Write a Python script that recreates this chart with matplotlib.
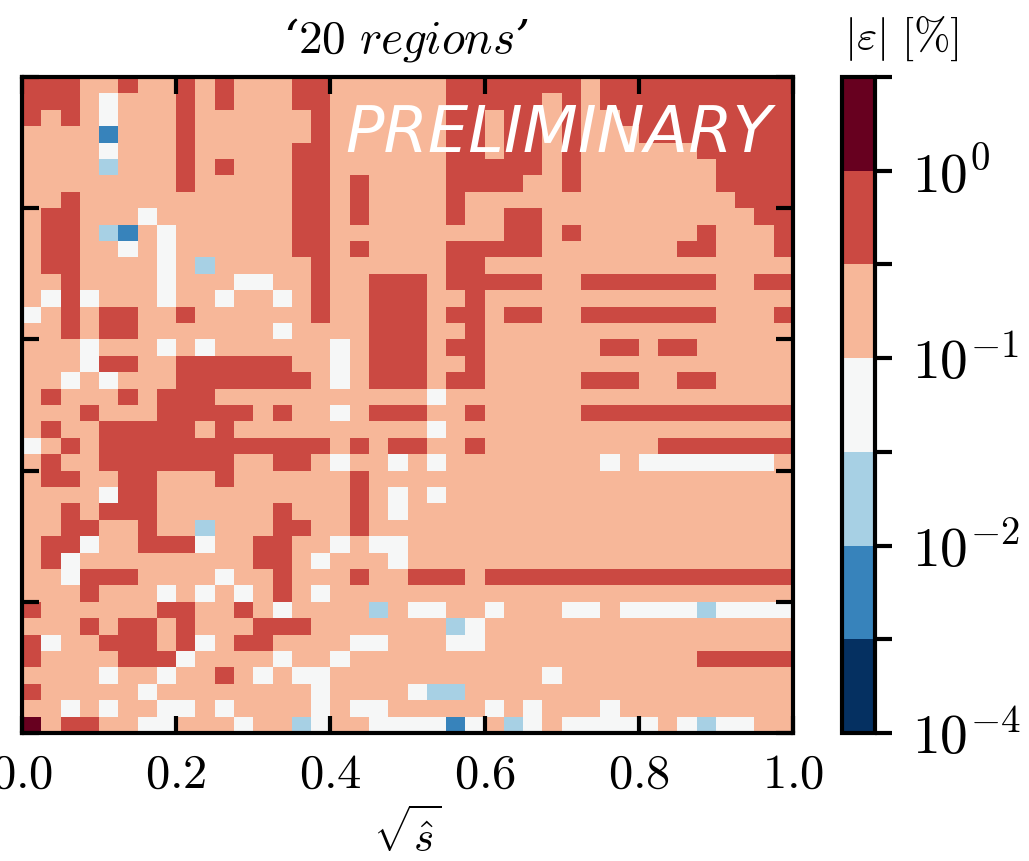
import numpy as np
import matplotlib
matplotlib.use("Agg")
import matplotlib.pyplot as plt
from matplotlib.colors import BoundaryNorm
from matplotlib.cm import ScalarMappable

plt.rcParams['mathtext.fontset'] = 'cm'
plt.rcParams['font.family'] = 'DejaVu Serif'

# Each letter is the colour band of one cell (top row first)
rows_left = [
 "RRRPPRPPRPRPPPRRPPPP","RRRPWPPPRPRPPPRRPPPP","RPRPWPPPRPPPPPPRPPPP","PPPPBPPPRPPPPPPRPPPP",
 "PPPPWPPPRPPPPPRRPPPP","PPPPLPPPRPRPPPRRPPPP","PPPPPPPPRPPPPPRRPRPP","PPRPPPPPPPPPPPRRPRPP",
 "PRRPPPWPPPPPPPRRPRPP","PRRPLBPWPPPPPPRRPPPP","PRRPPWPWPPPPPPRRPRPP","PRRPPPPWPLPPPPPRPPPP",
 "PPRPPPPWPPPWWPPRPPRR","PWRWPPPWPPWPPWPRPPRR","WPRPRRPPRPPPPPPRPPRR","PPRPRRPPPPPPPWPPPPRR",
 "PPPWPPPWPWPPPPPPWPRR","PPPWRRPPRRRRRRPPWPRR","PPWPWPPPRRRRRRRPWPRR","PRPPPRPRRRPPPPPPPPPP",
 "PPPRPPPRRRRRPRPPWPRR","PRPPRRRRRPRPPPPPPPPP","WPRPRRRRRRRRRRRRPRPR","PRPPRRRRRRRPPRRPWPPW",
 "PRRPPRRPPPRPPPPPPRPP","PPPPWRRPPPPPPPPPPRPW","PPRPRRRPPPPPPRPPPRPW","PPRRPPRPPLPPPRRPPRPP",
 "PRRWPPRRRWPPRRPPWPWW","PRWPPPPPPPPPRRPWPPPW","PPWRRRPPPPWPPRPPPRPP","PPPRPPPWPWPWPRPWPPPP",
 "RPPPPPPRRPPRPWPPPPLP","PPPRPRRPRPPPRRRPPPPP","RWPPRRRPRWPRRPPPPWWP","RPPPPRRRWPPPPWPPWPPP",
 "PPPPWPPWPPRPWPWWPPPP","RPPPPPWPPPPPPPPWPPPP","PPWPWPPWWPWPPPPWPWWP","KPRRPPWWPPPWPPLWPPWW",
]
rows_right = [
 "PPRRRRRRRPRRRRRRRRRR","PPRRRRRPRPRRRRRRRRRR","PPRRPRRPRPPRRRRRRRRR","PPRRPRRPRPPPRRRRRRRR",
 "PPRRPRRPRPPPPPPRRRRR","PPRRRRRPRPPPPPPPRRRR","PPRRRRPPRPPPPPPPRRRR","PPRPPPPPPPPPPPPPPRRR",
 "PPRPPRRPPPPPPPPPPPRR","PPPPPRRPRPPPPPPRPPPR","PPRRRRRPPPPPPPRRPPPR","PPRRPPPPPPPPPPPPPPPP",
 "RPRRRRRPPRRRRRRRPPRR","RPPRPPPPPPPPPPPPPPPP","RPRRPRRPPRRRRRRRPPPR","RPPRPPPPPPPPPPPPPPPP",
 "RPRRPPPPPPRRPRRPPPPP","RPPRPPPPPPPPPPPPPPPP","RPRRPPPPPRRRPPRRPPPP","PWPPPPPPPPPPPPPPPPPP",
 "RPPRPPPPPRRRRRRRRRRR","PWPPPPPPPPPPPPPPPPPP","RPPRPPPPPPPPPRRRRRRR","PWPPPPPPPPWPWWWWWWWP",
 "PPPPPPPPPPPPPPPPPPPP","PWPPPPPPPPPPPPPPPPPP","PPPPPPPPPPPPPPPPPPPP","PPPPPPPPPPPPPPPPPPPP",
 "PPPPPPPPPPPPPPPPPPPP","PPPPPPPPPPPPPPPPPPPP","RRRPRRRRRRRRRRRRRRRR","PPPPPPPPPPPPPPPPPPPP",
 "WWPPWPPPWWPWWWWLWWWW","PPLWPPPPPPPPPPPPPPPP","PPWWPPPPPPPPPPPPPPPP","PPPPPPPPPPPPPPPRRRRR",
 "PPPPPPPWPPPPPPPPPPPP","WLLPPPPPPPPPPPPPPPPP","PPPPWPWPPPWPPPPPPPPP","WWBWPLWPWWWWWPWLWWPP",
]
band_value = {"N": 3e-4, "B": 3e-3, "L": 0.02, "W": 0.05, "P": 0.2, "R": 0.5, "K": 2.0}
boundaries = [1e-4, 1e-3, 1e-2, 0.03, 0.1, 0.3, 1.0, 3.0]
cbar_labels = [r"$10^{-4}$", "", r"$10^{-2}$", "", r"$10^{-1}$", "", r"$10^{0}$", ""]
x_tick_values = [0.0, 0.2, 0.4, 0.6, 0.8, 1.0]

grid = np.array([[band_value[c] for c in l + r] for l, r in zip(rows_left, rows_right)])

W, H = 1029, 861
fig = plt.figure(figsize=(W / 100, H / 100), dpi=100)
ax = fig.add_axes([22 / W, 1 - 733 / H, 771 / W, 656 / H])
cax = fig.add_axes([842 / W, 1 - 733 / H, 33 / W, 656 / H])

cmap = plt.get_cmap("RdBu_r")
norm = BoundaryNorm(boundaries, cmap.N)
edges = np.linspace(0, 1, grid.shape[0] + 1)
ax.pcolormesh(edges, edges, grid[::-1], cmap=cmap, norm=norm, linewidth=0, rasterized=True)
ax.set_xlim(0, 1)
ax.set_ylim(0, 1)
ax.set_xticks(x_tick_values)
ax.set_xticklabels([f"${v:.1f}$" for v in x_tick_values], fontsize=35)
ax.set_yticks(x_tick_values)
ax.set_yticklabels([])
ax.tick_params(axis="both", which="major", direction="in", top=True, right=True,
               length=12, width=3, pad=13)
for s in ax.spines.values():
    s.set_linewidth(3)
    s.set_zorder(5)

fig.text(406 / W, 1 - 40 / H, r"‘$\mathit{20\ regions}$’", fontsize=34, ha="center", va="center",
         style="italic")
fig.text(407 / W, 1 - 835 / H, r"$\sqrt{\hat{s}}$", fontsize=31, ha="center", va="center")
fig.text(559 / W, 1 - 134 / H, "PRELIMINARY", color="white", fontsize=46, style="italic",
         family="DejaVu Sans", ha="center", va="center")

cb = fig.colorbar(ScalarMappable(norm=norm, cmap=cmap), cax=cax, spacing="uniform",
                  boundaries=boundaries, ticks=boundaries, drawedges=False)
cb.minorticks_off()
cax.set_yticklabels(cbar_labels, fontsize=40)
cax.tick_params(axis="y", which="major", direction="out", length=12, width=3, pad=15)
cb.outline.set_linewidth(3)
fig.text(901 / W, 1 - 38 / H, r"$|\varepsilon|\ [\%]$", fontsize=31.5, ha="center", va="center")

fig.savefig("out.png", dpi=100)
